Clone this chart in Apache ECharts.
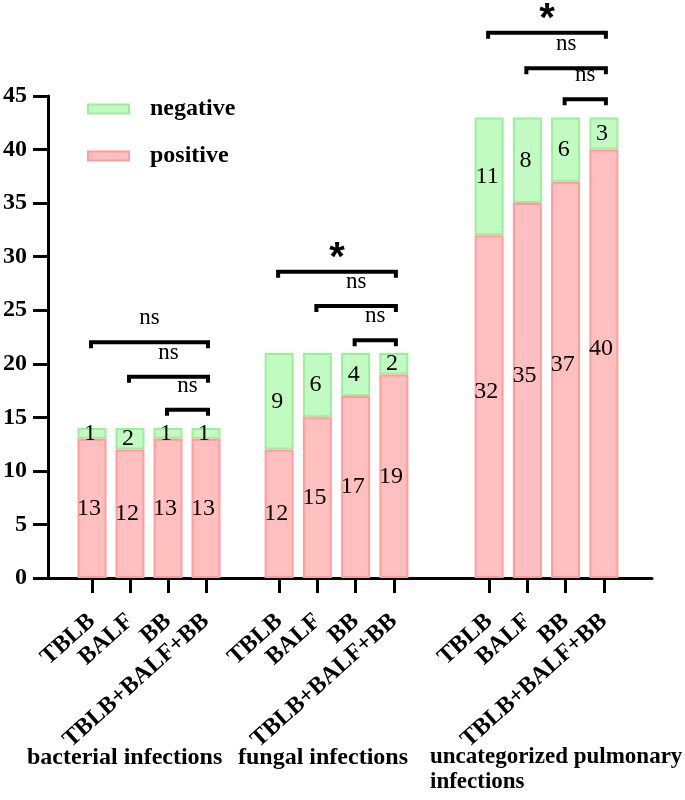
<!DOCTYPE html>
<html>
<head>
<meta charset="utf-8">
<script src="https://cdn.jsdelivr.net/npm/echarts@6/dist/echarts.min.js"></script>
<style>html,body{margin:0;padding:0;background:#fff;}#chart{width:685px;height:800px;}</style>
</head>
<body>
<div id="chart"></div>
<script>
// ---- data ----
const categories = ['TBLB', 'BALF', 'BB', 'TBLB+BALF+BB'];
const groupNames = ['bacterial infections', 'fungal infections', 'uncategorized pulmonary\ninfections'];
const positiveValues = [[13, 12, 13, 13], [12, 15, 17, 19], [32, 35, 37, 40]];
const negativeValues = [[1, 2, 1, 1], [9, 6, 4, 2], [11, 8, 6, 3]];
const yMin = 0, yMax = 45, yInterval = 5;
// significance brackets: [fromIndex, toIndex, level (y units), label]
const bracketsBacterial = [[0, 3, 22.0, 'ns'], [1, 3, 18.8, 'ns'], [2, 3, 15.7, 'ns']];
const bracketsFungal = [[0, 3, 28.6, '*'], [1, 3, 25.4, 'ns'], [2, 3, 22.2, 'ns']];
const bracketsUncat = [[0, 3, 50.9, '*'], [1, 3, 47.6, 'ns'], [2, 3, 44.7, 'ns']];
const brackets = [bracketsBacterial, bracketsFungal, bracketsUncat];

// ---- styles ----
const SERIF = 'Liberation Serif';
const posStyle = { color: '#ffbfbf', borderColor: '#ff9c9c', borderWidth: 2 };
const negStyle = { color: '#c2fbc2', borderColor: '#9cee9c', borderWidth: 2 };
const groupGrids = [
  { left: 73, width: 152 },
  { left: 260, width: 153 },
  { left: 470, width: 153 }
];
const TOP = 96, HEIGHT = 482;

const grid = [{ left: 46, top: TOP, width: 606, height: HEIGHT }];
groupGrids.forEach(g => grid.push({ left: g.left, width: g.width, top: TOP, height: HEIGHT }));

const xAxis = [{
  gridIndex: 0, type: 'value', min: 0, max: 1,
  axisLine: { show: true, lineStyle: { color: '#000', width: 3 } },
  axisTick: { show: false }, axisLabel: { show: false }, splitLine: { show: false }
}];
const yAxis = [{
  gridIndex: 0, type: 'value', min: yMin, max: yMax, interval: yInterval,
  axisLine: { show: true, lineStyle: { color: '#000', width: 3 } },
  axisTick: { show: true, inside: false, length: 15, lineStyle: { color: '#000', width: 3 } },
  axisLabel: { color: '#000', fontFamily: SERIF, fontWeight: 'bold', fontSize: 24, margin: 21 },
  splitLine: { show: false }
}];
for (let i = 0; i < 3; i++) {
  xAxis.push({
    gridIndex: i + 1, type: 'category', data: categories,
    axisLine: { show: false },
    axisTick: { show: true, alignWithLabel: true, length: 15, lineStyle: { color: '#000', width: 3 } },
    axisLabel: { color: '#000', fontFamily: SERIF, fontWeight: 'bold', fontSize: 24, rotate: 42, margin: 40, interval: 0 }
  });
  yAxis.push({ gridIndex: i + 1, type: 'value', min: yMin, max: yMax, interval: yInterval, show: false });
}

const labelStyle = { show: true, position: 'inside', color: '#000', fontFamily: SERIF, fontSize: 24 };
const series = [{ type: 'line', xAxisIndex: 0, yAxisIndex: 0, data: [], silent: true }];
for (let i = 0; i < 3; i++) {
  series.push({
    name: 'positive', type: 'bar', stack: 'g' + i, xAxisIndex: i + 1, yAxisIndex: i + 1,
    barWidth: 29, data: positiveValues[i], itemStyle: posStyle,
    label: Object.assign({}, labelStyle, i === 2 ? { offset: [-3, -15] } : { offset: [-3, 0] })
  });
  series.push({
    name: 'negative', type: 'bar', stack: 'g' + i, xAxisIndex: i + 1, yAxisIndex: i + 1,
    barWidth: 29, data: negativeValues[i], itemStyle: negStyle,
    label: Object.assign({}, labelStyle, { offset: [-2, 0] })
  });
  const bl = brackets[i];
  series.push({
    type: 'custom', xAxisIndex: i + 1, yAxisIndex: i + 1, clip: false, silent: true,
    encode: { x: [0, 1], y: 2 },
    data: bl.map(b => [b[0], b[1], b[2]]),
    renderItem: function (params, api) {
      const b = bl[params.dataIndex];
      const p1 = api.coord([b[0], b[2]]);
      const p2 = api.coord([b[1], b[2]]);
      const x1 = p1[0] - 1, x2 = p2[0] + 2, y = p1[1];
      const isStar = b[3] === '*';
      return {
        type: 'group',
        children: [
          { type: 'polyline', shape: { points: [[x1, y + 6], [x1, y], [x2, y], [x2, y + 6]] },
            style: { stroke: '#000', lineWidth: 4, fill: null } },
          { type: 'text', style: {
              text: b[3], x: (x1 + x2) / 2, y: isStar ? y - 13 : y - 24,
              textAlign: 'center', textVerticalAlign: 'middle',
              font: isStar ? 'bold 40px "Liberation Sans"' : '23px "Liberation Serif"', fill: '#000' } }
        ]
      };
    }
  });
}

const titleFont = { color: '#000', fontFamily: SERIF, fontWeight: 'bold', fontSize: 24, lineHeight: 25 };
const title = [
  { text: groupNames[0], left: 27, top: 745, padding: 0, textStyle: titleFont },
  { text: groupNames[1], left: 238, top: 745, padding: 0, textStyle: titleFont },
  { text: groupNames[2], left: 430, top: 745, padding: 0, textStyle: Object.assign({}, titleFont, { fontSize: 23 }) }
];

const chart = echarts.init(document.getElementById('chart'), null, { renderer: 'canvas' });
chart.setOption({
  animation: false,
  backgroundColor: '#fff',
  title: title,
  legend: {
    data: ['negative', 'positive'], orient: 'vertical', left: 82, top: 92,
    itemWidth: 41, itemHeight: 9, itemGap: 23, icon: 'rect',
    textStyle: { color: '#000', fontFamily: SERIF, fontWeight: 'bold', fontSize: 24, padding: [0, 0, 0, 16] }
  },
  grid: grid, xAxis: xAxis, yAxis: yAxis, series: series
});
</script>
</body>
</html>
